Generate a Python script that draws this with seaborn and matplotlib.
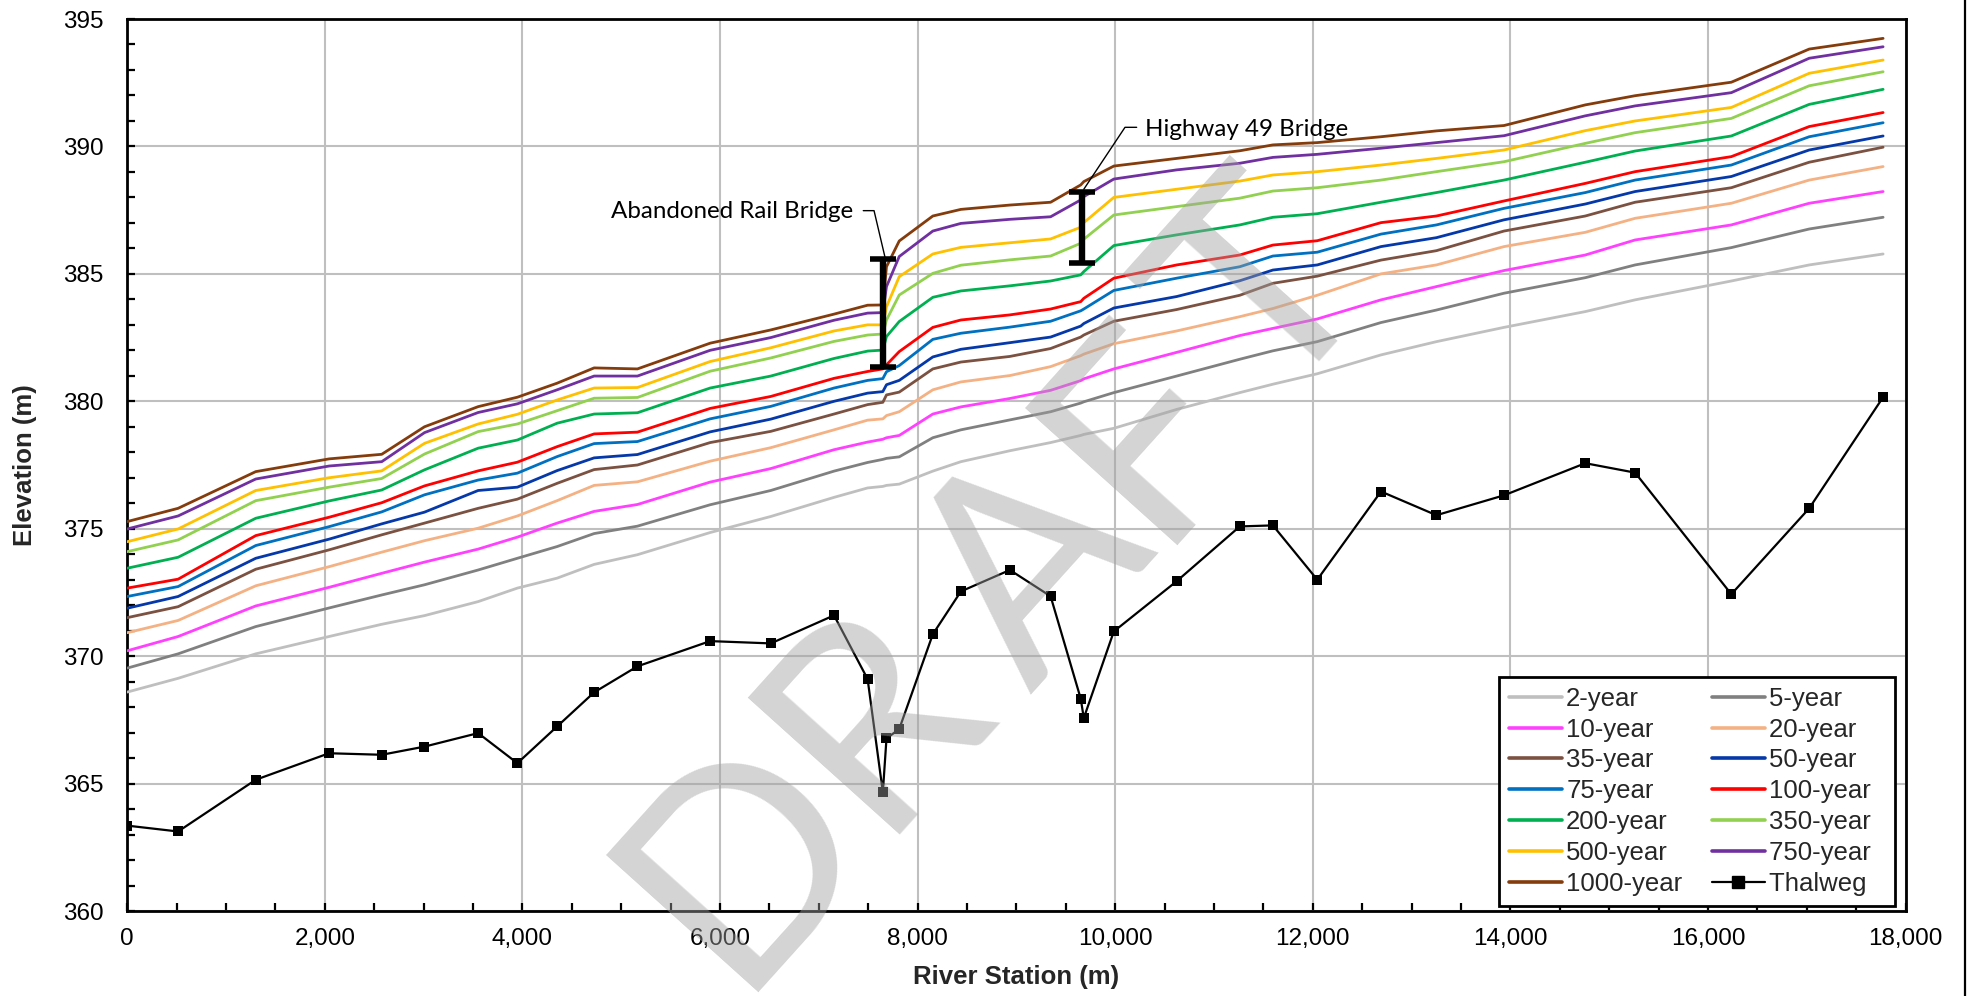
import numpy as np
import pandas as pd
import matplotlib
matplotlib.use("Agg")
import matplotlib.pyplot as plt
import seaborn as sns
from matplotlib.ticker import MultipleLocator, FuncFormatter
from matplotlib.lines import Line2D

# ---------------- data ----------------
stations = [0, 515, 1301, 2043, 2576, 3009, 3552, 3949, 4351, 4726, 5164, 5900, 6514,
            7154, 7494, 7648, 7685, 7814, 8154, 8438, 8934, 9346, 9651, 9682, 9986,
            10622, 11261, 11596, 12045, 12690, 13251, 13935, 14758, 15262, 16236,
            17024, 17772]

thalweg = [363.35, 363.12, 365.15, 366.19, 366.13, 366.45, 366.98, 365.80, 367.24,
           368.58, 369.60, 370.59, 370.50, 371.60, 369.10, 364.66, 366.77, 367.14,
           370.86, 372.54, 373.38, 372.35, 368.33, 367.57, 370.97, 372.94, 375.09,
           375.13, 373.00, 376.46, 375.53, 376.31, 377.57, 377.20, 372.43, 375.80,
           380.16]

wse_2yr = [368.59, 369.13, 370.09, 370.77, 371.25, 371.59, 372.14, 372.67, 373.06,
           373.60, 373.98, 374.85, 375.48, 376.23, 376.60, 376.66, 376.70, 376.75,
           377.26, 377.63, 378.06, 378.38, 378.66, 378.70, 378.94, 379.68, 380.34,
           380.67, 381.08, 381.82, 382.34, 382.90, 383.52, 383.98, 384.72, 385.35,
           385.78]
wse_5yr = [369.53, 370.09, 371.16, 371.89, 372.40, 372.80, 373.38, 373.84, 374.30,
           374.81, 375.10, 375.94, 376.50, 377.26, 377.60, 377.72, 377.76, 377.82,
           378.57, 378.88, 379.27, 379.59, 379.93, 379.98, 380.34, 380.99, 381.65,
           381.98, 382.34, 383.09, 383.58, 384.24, 384.85, 385.35, 386.03, 386.76,
           387.22]
wse_10yr = [370.21, 370.77, 371.97, 372.70, 373.25, 373.69, 374.20, 374.67, 375.22,
            375.68, 375.95, 376.83, 377.36, 378.10, 378.40, 378.51, 378.57, 378.66,
            379.50, 379.78, 380.11, 380.43, 380.81, 380.88, 381.27, 381.92, 382.58,
            382.86, 383.23, 383.98, 384.50, 385.13, 385.74, 386.33, 386.92, 387.77,
            388.23]
wse_20yr = [370.92, 371.40, 372.76, 373.51, 374.08, 374.53, 375.02, 375.50, 376.10,
            376.70, 376.84, 377.65, 378.18, 378.88, 379.26, 379.31, 379.44, 379.59,
            380.45, 380.76, 381.01, 381.36, 381.79, 381.85, 382.26, 382.76, 383.32,
            383.64, 384.16, 385.00, 385.35, 386.07, 386.63, 387.18, 387.77, 388.68,
            389.21]
wse_35yr = [371.51, 371.94, 373.41, 374.17, 374.76, 375.22, 375.80, 376.16, 376.78,
            377.32, 377.50, 378.38, 378.82, 379.50, 379.87, 379.96, 380.25, 380.36,
            381.27, 381.54, 381.76, 382.07, 382.52, 382.60, 383.14, 383.60, 384.16,
            384.63, 384.91, 385.54, 385.91, 386.68, 387.27, 387.81, 388.38, 389.38,
            389.97]
wse_50yr = [371.88, 372.34, 373.84, 374.59, 375.19, 375.65, 376.50, 376.63, 377.28,
            377.78, 377.91, 378.80, 379.30, 380.00, 380.32, 380.38, 380.65, 380.82,
            381.74, 382.04, 382.30, 382.52, 382.95, 383.05, 383.66, 384.11, 384.73,
            385.15, 385.35, 386.07, 386.42, 387.12, 387.74, 388.23, 388.82, 389.86,
            390.41]
wse_75yr = [372.34, 372.73, 374.34, 375.08, 375.66, 376.33, 376.91, 377.18, 377.83,
            378.34, 378.42, 379.31, 379.80, 380.52, 380.82, 380.89, 381.16, 381.40,
            382.43, 382.67, 382.91, 383.14, 383.55, 383.62, 384.35, 384.83, 385.28,
            385.70, 385.85, 386.56, 386.92, 387.57, 388.19, 388.68, 389.27, 390.38,
            390.93]
wse_100yr = [372.67, 373.02, 374.73, 375.45, 376.02, 376.68, 377.27, 377.61, 378.22,
             378.72, 378.79, 379.72, 380.19, 380.90, 381.17, 381.27, 381.43, 381.95,
             382.90, 383.19, 383.39, 383.62, 383.91, 384.04, 384.83, 385.35, 385.74,
             386.13, 386.30, 387.01, 387.27, 387.86, 388.55, 389.01, 389.60, 390.78,
             391.33]
wse_200yr = [373.45, 373.88, 375.41, 376.09, 376.52, 377.31, 378.16, 378.48, 379.14,
             379.50, 379.55, 380.52, 380.99, 381.68, 381.97, 382.01, 382.54, 383.13,
             384.08, 384.33, 384.53, 384.72, 384.96, 385.09, 386.11, 386.53, 386.92,
             387.22, 387.36, 387.81, 388.19, 388.68, 389.38, 389.82, 390.41, 391.65,
             392.24]
wse_350yr = [374.10, 374.56, 376.10, 376.63, 376.97, 377.93, 378.81, 379.11, 379.63,
             380.12, 380.15, 381.18, 381.70, 382.35, 382.60, 382.64, 383.19, 384.17,
             385.02, 385.34, 385.55, 385.70, 386.20, 386.36, 387.31, 387.64, 387.97,
             388.25, 388.38, 388.68, 389.01, 389.40, 390.12, 390.54, 391.10, 392.38,
             392.93]
wse_500yr = [374.49, 374.99, 376.50, 377.00, 377.27, 378.35, 379.11, 379.49, 380.05,
             380.52, 380.54, 381.56, 382.10, 382.76, 383.00, 383.00, 383.71, 384.89,
             385.78, 386.04, 386.22, 386.37, 386.83, 387.01, 388.00, 388.32, 388.64,
             388.88, 389.01, 389.27, 389.53, 389.86, 390.62, 391.00, 391.53, 392.87,
             393.39]
wse_750yr = [374.99, 375.50, 376.95, 377.46, 377.63, 378.77, 379.56, 379.90, 380.45,
             380.99, 380.99, 382.00, 382.50, 383.18, 383.46, 383.48, 384.50, 385.68,
             386.68, 386.98, 387.14, 387.24, 387.90, 388.03, 388.72, 389.08, 389.34,
             389.57, 389.69, 389.93, 390.15, 390.42, 391.20, 391.59, 392.11, 393.46,
             393.91]
wse_1000yr = [375.28, 375.80, 377.24, 377.74, 377.92, 379.00, 379.79, 380.16, 380.71,
              381.31, 381.27, 382.28, 382.80, 383.42, 383.77, 383.78, 385.28, 386.29,
              387.27, 387.53, 387.70, 387.81, 388.49, 388.62, 389.23, 389.53, 389.83,
              390.06, 390.15, 390.38, 390.61, 390.82, 391.63, 391.99, 392.52, 393.82,
              394.24]

events = ["2-year", "5-year", "10-year", "20-year", "35-year", "50-year", "75-year",
          "100-year", "200-year", "350-year", "500-year", "750-year", "1000-year"]
profiles = [wse_2yr, wse_5yr, wse_10yr, wse_20yr, wse_35yr, wse_50yr, wse_75yr,
            wse_100yr, wse_200yr, wse_350yr, wse_500yr, wse_750yr, wse_1000yr]
colors = ["#BFBFBF", "#808080", "#FF40FF", "#F4B183", "#7B5141", "#0538A8", "#0070C0",
          "#FF0000", "#00B050", "#92D050", "#FFC000", "#7030A0", "#843C0C"]

# bridges
bridge_names = ["Abandoned Rail Bridge", "Highway 49 Bridge"]
bridge_station = [7653, 9665]
bridge_low = [381.36, 385.42]
bridge_high = [385.58, 388.22]

# watermark letters and their centres (figure fraction)
wm_letters = ["D", "R", "A", "F", "T"]
wm_x = [0.3780, 0.4429, 0.5249, 0.5813, 0.6426]
wm_y = [0.1394, 0.2840, 0.4285, 0.5671, 0.7056]

# ---------------- style ----------------
sns.set_theme(style="white")
plt.rcParams["font.family"] = ["Liberation Sans", "DejaVu Sans"]

fig = plt.figure(figsize=(19.71, 9.96), dpi=100)
ax = fig.add_axes([0.06454, 0.08534, 0.90229, 0.89558])

rows = []
for ev, vals in zip(events, profiles):
    for s, v in zip(stations, vals):
        rows.append({"station": s, "elev": v, "event": ev})
df = pd.DataFrame(rows)

sns.lineplot(data=df, x="station", y="elev", hue="event", hue_order=events,
             palette=colors, estimator=None, sort=False, linewidth=2.0, ax=ax,
             zorder=3)
sns.lineplot(x=stations, y=thalweg, color="black", marker="s", markersize=7,
             markeredgecolor="black", markeredgewidth=0, linewidth=1.6,
             estimator=None, sort=False, ax=ax, label="Thalweg", zorder=4)

# bridge markers
mid = [(a + b) / 2 for a, b in zip(bridge_low, bridge_high)]
half = [(b - a) / 2 for a, b in zip(bridge_low, bridge_high)]
ax.errorbar(bridge_station, mid, yerr=half, fmt="none", ecolor="black",
            elinewidth=4.6, capsize=9.5, capthick=4.0, zorder=6)

# annotations (leader lines + labels)
rail_leader_x = [7450, 7559, 7670]
rail_leader_y = [387.48, 387.48, 385.65]
hwy_leader_x = [9682, 10099, 10217]
hwy_leader_y = [388.32, 390.75, 390.75]
ax.plot(rail_leader_x, rail_leader_y, color="black", lw=1.0, zorder=7)
ax.plot(hwy_leader_x, hwy_leader_y, color="black", lw=1.0, zorder=7)
ax.text(7352, 387.45, bridge_names[0], ha="right", va="center", fontsize=17.4,
        family=["Lato", "DejaVu Sans"], color="black", zorder=7)
ax.text(10302, 390.67, bridge_names[1], ha="left", va="center", fontsize=17.4,
        family=["Lato", "DejaVu Sans"], color="black", zorder=7)

# axes
ax.set_xlim(0, 18000)
ax.set_ylim(360, 395)
ax.xaxis.set_major_locator(MultipleLocator(2000))
ax.xaxis.set_minor_locator(MultipleLocator(500))
ax.yaxis.set_major_locator(MultipleLocator(5))
ax.yaxis.set_minor_locator(MultipleLocator(1))
ax.xaxis.set_major_formatter(FuncFormatter(lambda v, p: f"{int(round(v)):,}"))
ax.grid(True, which="major", color="#BFBFBF", linewidth=1.5, zorder=0)
ax.set_axisbelow(True)
ax.tick_params(axis="both", which="both", direction="in", length=6, width=1.6,
               color="black", bottom=True, left=True, top=False, right=False)
ax.tick_params(axis="x", which="major", labelsize=17.5, pad=12, labelcolor="black")
ax.tick_params(axis="y", which="major", labelsize=17.5, pad=17, labelcolor="black")
for sp in ax.spines.values():
    sp.set_visible(True)
    sp.set_color("black")
    sp.set_linewidth(2.0)
ax.set_xlabel("River Station (m)", fontsize=18.5, fontweight="bold")
ax.set_ylabel("Elevation (m)", fontsize=18.5, fontweight="bold")
ax.xaxis.set_label_coords(0.5, -0.060)
ax.yaxis.set_label_coords(-0.051, 0.5)

# legend
handles, labels = ax.get_legend_handles_labels()
hmap = dict(zip(labels, handles))
row_order = events + ["Thalweg"]
col1 = row_order[0::2]
col2 = row_order[1::2]
order = col1 + col2
new_handles = []
for lab in order:
    h = hmap[lab]
    if lab == "Thalweg":
        nh = Line2D([], [], color="black", lw=1.6, marker="s", markersize=9)
    else:
        nh = Line2D([], [], color=h.get_color(), lw=2.6)
    new_handles.append(nh)
leg_labels = [lab if lab in col1 else lab + "  " for lab in order]
leg = ax.legend(new_handles, leg_labels, ncol=2, loc="lower right",
                bbox_to_anchor=(0.994, 0.0056), borderaxespad=0,
                fontsize=18.5, frameon=True, fancybox=False, framealpha=1,
                edgecolor="black", handlelength=2.05, handletextpad=0.17,
                columnspacing=1.16, labelspacing=0.27, borderpad=0.38)
leg.get_frame().set_linewidth(2.0)
leg.set_zorder(8)

# watermark (semi-transparent, drawn above the plot)
for ch, wx, wy in zip(wm_letters, wm_x, wm_y):
    fig.text(wx, wy, ch, rotation=48, rotation_mode="anchor",
             ha="center", va="center", fontsize=205, family=["Lato", "DejaVu Sans"],
             color="#A0A0A0", alpha=0.45, zorder=20)

# right edge border of chart area
fig.add_artist(Line2D([0.997, 0.997], [0, 1], transform=fig.transFigure,
                      color="black", lw=1.6))

fig.savefig("out.png", dpi=100)
